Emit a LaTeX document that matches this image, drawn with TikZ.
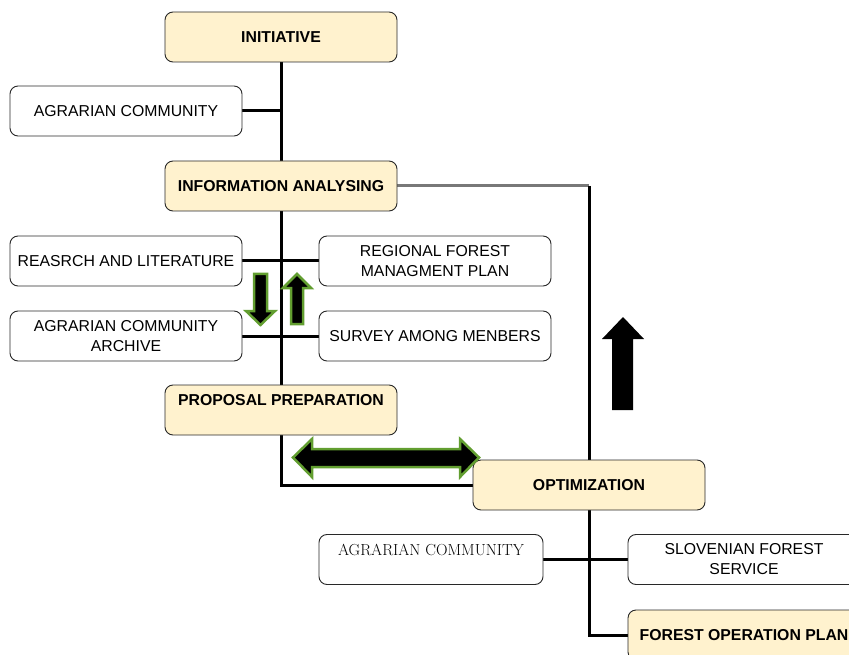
\documentclass[tikz,border=0pt]{standalone}
\usepackage{fontspec}
\setsansfont{Liberation Sans}
\usetikzlibrary{backgrounds}
\definecolor{beige}{RGB}{255,242,206}
\definecolor{bordergray}{RGB}{40,40,40}
\definecolor{arrowgreen}{RGB}{98,158,48}
\definecolor{linegray}{RGB}{120,120,120}
\begin{document}
\begin{tikzpicture}[x=1pt,y=-1pt,
  box/.style={draw=bordergray,line width=0.9pt,rounded corners=8pt,fill=white,
    minimum width=232pt,minimum height=50pt,inner sep=2pt,align=center,
    font=\sffamily\fontsize{15.8}{20}\selectfont},
  keybox/.style={box,fill=beige,font=\sffamily\bfseries\fontsize{15.8}{20}\selectfont},
  conn/.style={line width=3pt},
  blockarrow/.style={fill=black,draw=arrowgreen,line width=2.5pt,line join=miter}
]
\useasboundingbox (0,0) rectangle (849,655);

% nodes
\node[keybox] (init) at (281,37) {INITIATIVE};
\node[box] (ag1) at (126,111) {AGRARIAN COMMUNITY};
\node[keybox] (info) at (281,186) {INFORMATION ANALYSING};
\node[box] (res) at (126,261) {REASRCH AND LITERATURE};
\node[box] (reg) at (435,261) {REGIONAL FOREST\\MANAGMENT PLAN};
\node[box] (arch) at (126,336) {AGRARIAN COMMUNITY\\ARCHIVE};
\node[box] (surv) at (435,336) {SURVEY AMONG MENBERS};
\node[keybox] (prop) at (281,410) {PROPOSAL PREPARATION\\\mbox{}};
\node[keybox] (opt) at (589,485) {OPTIMIZATION};
\node[box,minimum width=224pt,font=\rmfamily\fontsize{16}{20}\selectfont] (ag2) at (431,559.5) {AGRARIAN COMMUNITY\\\mbox{}};
\node[box] (sfs) at (744,559.5) {SLOVENIAN FOREST\\SERVICE};
\node[keybox] (fop) at (744,635) {FOREST OPERATION PLAN};

\coordinate (corner) at (info.east -| opt.north);

% connectors behind nodes
\begin{scope}[on background layer]
\draw[conn] (init.south) -- (info.north);
\draw[conn] (ag1.east) -- (ag1.east -| init.south);
\draw[conn] (info.south) -- (prop.north);
\draw[conn] (res.east) -- (reg.west);
\draw[conn] (arch.east) -- (surv.west);
\draw[conn] (prop.south) |- (opt.west);
\draw[line width=3pt,linegray] (info.east) -- (corner);
\draw[conn] (corner) -- (opt.north);
\draw[conn] (opt.south) |- (fop.west);
\draw[conn] (ag2.east) -- (sfs.west);
\end{scope}

% block arrows
\draw[blockarrow] (254,274) -- (267,274) -- (267,311) -- (275,311) -- (260.5,325) -- (246,311) -- (254,311) -- cycle;
\draw[blockarrow] (297,274) -- (311,288) -- (303,288) -- (303,324) -- (291,324) -- (291,288) -- (283,288) -- cycle;
\draw[blockarrow] (293,457.5) -- (312,439) -- (312,449) -- (460,449) -- (460,439) -- (479,457.5) -- (460,477) -- (460,467) -- (312,467) -- (312,477) -- cycle;
\fill[black] (623,317) -- (644,339) -- (633,339) -- (633,410) -- (612,410) -- (612,339) -- (602,339) -- cycle;
\end{tikzpicture}
\end{document}
